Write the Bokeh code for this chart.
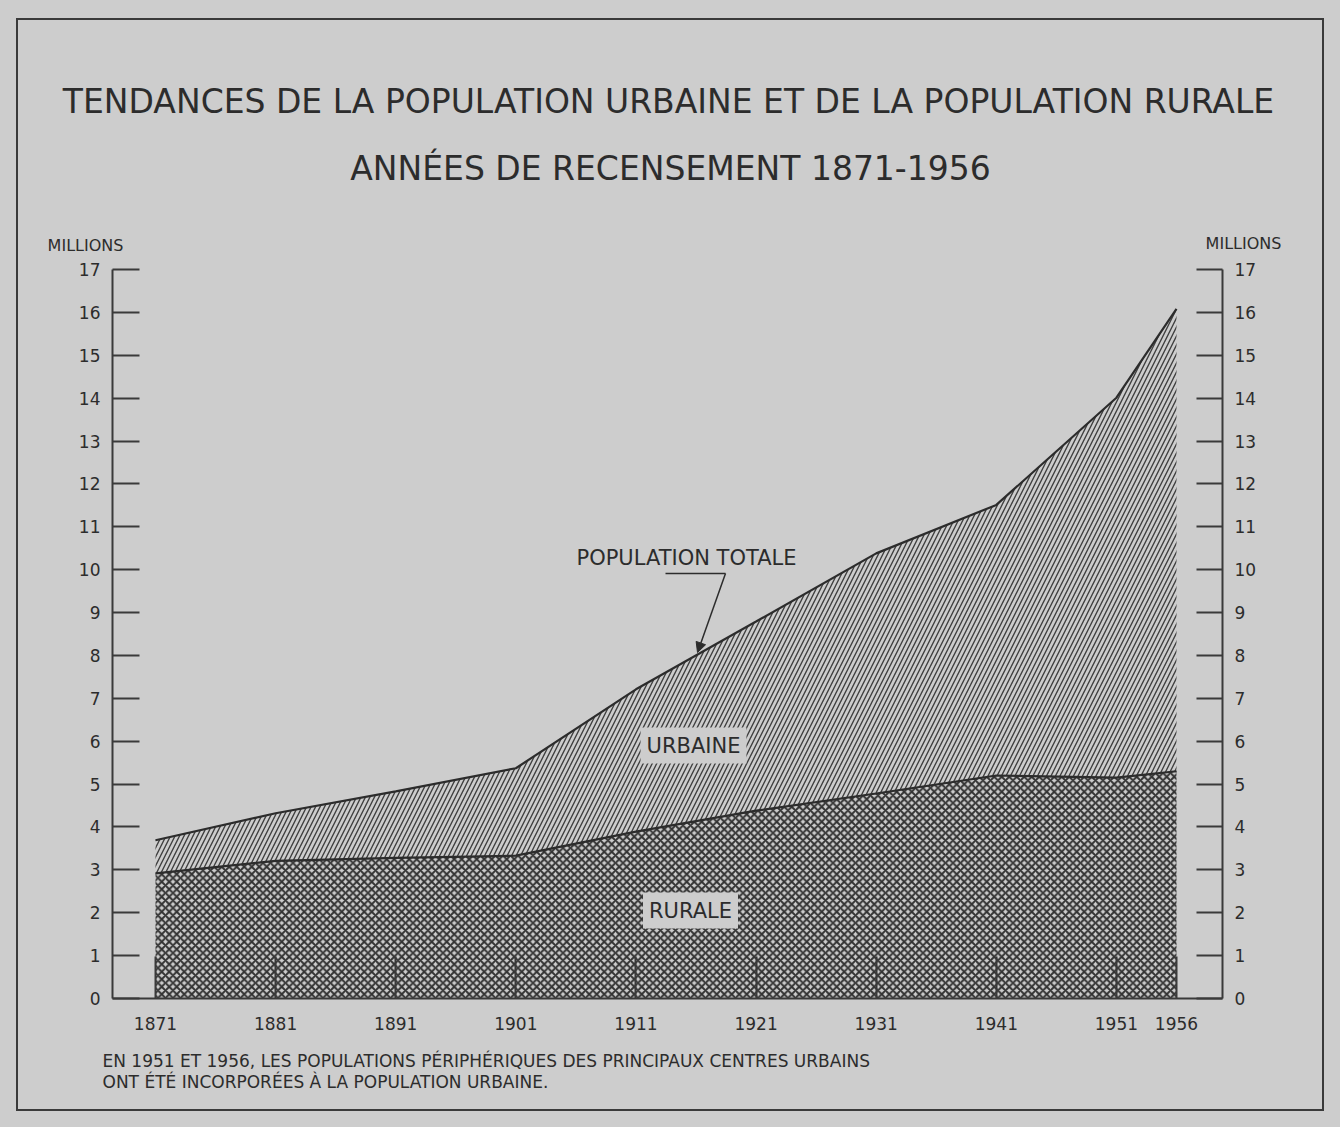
from bokeh.plotting import figure
from bokeh.models import (ColumnDataSource, LinearAxis, FixedTicker, Range1d, Label,
                          Arrow, NormalHead, InlineStyleSheet)
from bokeh.embed import file_html
from bokeh.resources import INLINE

# ---- data (millions) ----
years = [1871, 1881, 1891, 1901, 1911, 1921, 1931, 1941, 1951, 1956]
total = [3.69, 4.32, 4.83, 5.37, 7.21, 8.79, 10.38, 11.51, 14.01, 16.08]
rural = [2.92, 3.21, 3.28, 3.33, 3.89, 4.38, 4.78, 5.20, 5.15, 5.30]
y_ticks = list(range(0, 18))
x_ticks = years

title1 = "TENDANCES DE LA POPULATION URBAINE ET DE LA POPULATION RURALE"
title2 = "ANNÉES DE RECENSEMENT 1871-1956"
unit_label = "MILLIONS"
total_label = "POPULATION TOTALE"
urban_label = "URBAINE"
rural_label = "RURALE"
note1 = "EN 1951 ET 1956, LES POPULATIONS PÉRIPHÉRIQUES DES PRINCIPAUX CENTRES URBAINS"
note2 = "ONT ÉTÉ INCORPORÉES À LA POPULATION URBAINE."

BG = "#cdcdcd"
INK = "#2c2c2c"
AX = "#3a3a3a"
FONT = "DejaVu Sans"

W, H = 1340, 1127
# frame in page pixels
FL, FR, FT, FB = 34, 1306, 30, 1089
# pixel calibration of the chart: year 1871 at px 155, 1956 at px 1176; 0 at 998, 17 at 269
XS = (1956 - 1871) / (1176 - 155)
YS = 17 / (998 - 269)


def px2x(px):
    return 1871 + (px - 155) * XS


def py2y(py):
    return (998 - py) * YS


X0, X1 = px2x(FL), px2x(FR)
Y0, Y1 = py2y(FB), py2y(FT)

p = figure(width=W, height=H, output_backend="svg", toolbar_location=None,
           x_range=Range1d(X0, X1), y_range=Range1d(Y0, Y1),
           x_axis_location=None, y_axis_location=None,
           min_border_left=FL, min_border_right=W - FR,
           min_border_top=FT, min_border_bottom=H - FB)
p.background_fill_color = None
p.border_fill_color = None
p.outline_line_color = None
p.xgrid.visible = False
p.ygrid.visible = False
p.stylesheets = [InlineStyleSheet(css="""
:host { background-color: #cdcdcd; }
:host::after { content: ""; position: absolute; left: 16px; top: 18px; right: 16px;
  bottom: 16px; border: 2px solid #3a3a3a; pointer-events: none; z-index: 50; }
""")]

src = ColumnDataSource(dict(year=years, total=total, rural=rural,
                            zero=[0] * len(years)))

p.varea(x="year", y1="rural", y2="total", source=src, fill_color=BG,
        hatch_pattern="/", hatch_scale=9, hatch_weight=1.4, hatch_color="#404040")
p.varea(x="year", y1="zero", y2="rural", source=src, fill_color=BG,
        hatch_pattern="x", hatch_scale=7.5, hatch_weight=2.0, hatch_color="#333333")
p.line(x="year", y="total", source=src, line_color=INK, line_width=2.2)
p.line(x="year", y="rural", source=src, line_color=INK, line_width=2.2)


def style_axis(ax, standoff, size):
    ax.axis_line_color = AX
    ax.axis_line_width = 2
    ax.major_tick_line_color = AX
    ax.major_tick_line_width = 2
    ax.minor_tick_line_color = None
    ax.major_tick_out = 0
    ax.major_label_standoff = standoff
    ax.major_label_text_font = FONT
    ax.major_label_text_color = INK
    ax.major_label_text_font_size = size


left = LinearAxis(ticker=FixedTicker(ticks=y_ticks), fixed_location=px2x(112),
                  bounds=(0, 17))
style_axis(left, 12, "17px")
left.major_tick_in = 27
p.add_layout(left, "left")

right = LinearAxis(ticker=FixedTicker(ticks=y_ticks), fixed_location=px2x(1222),
                   bounds=(0, 17))
style_axis(right, 12, "17px")
right.major_tick_in = 26
p.add_layout(right, "right")

bottom = LinearAxis(ticker=FixedTicker(ticks=x_ticks), fixed_location=0,
                    bounds=(px2x(112), px2x(1222)))
style_axis(bottom, 18, "17px")
bottom.major_tick_in = 42
p.add_layout(bottom, "below")


def lab(text, cx, cy, size, align="center", **kw):
    l = Label(x=px2x(cx), y=py2y(cy), text=text, text_align=align,
              text_baseline="middle", text_font=FONT, text_font_size=size,
              text_color=INK, **kw)
    p.add_layout(l)
    return l


lab(title1, 668, 101, "33px")
lab(title2, 670, 168, "33px")
lab(unit_label, 85, 245, "16px")
lab(unit_label, 1243, 243, "16px")
lab(total_label, 686, 557, "21px")
lab(urban_label, 693, 745, "21px", background_fill_color=BG, padding=6)
lab(rural_label, 690, 910, "21px", background_fill_color=BG, padding=6)
lab(note1, 102, 1060, "17px", align="left")
lab(note2, 102, 1081, "17px", align="left")

# leader for POPULATION TOTALE
p.add_layout(Arrow(end=None, x_start=px2x(665), y_start=py2y(573),
                   x_end=px2x(725), y_end=py2y(573),
                   line_color=INK, line_width=1.5))
p.add_layout(Arrow(end=NormalHead(size=10, fill_color=INK, line_color=INK),
                   x_start=px2x(725), y_start=py2y(573),
                   x_end=px2x(697), y_end=py2y(652),
                   line_color=INK, line_width=1.5))

open("out.html", "w").write(file_html(p, INLINE))
